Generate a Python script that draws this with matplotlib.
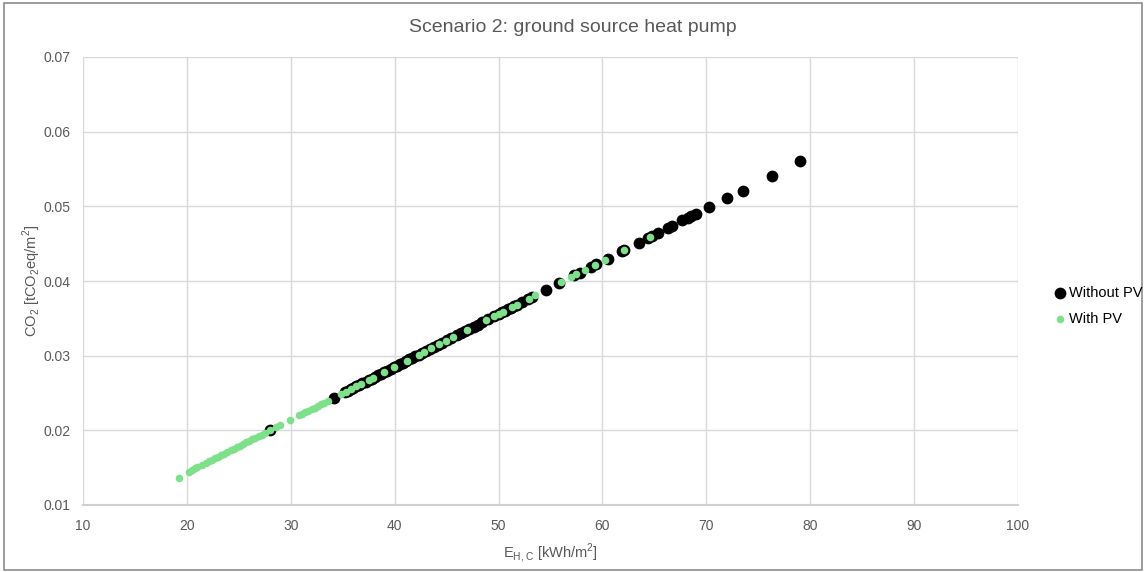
import matplotlib
matplotlib.use("Agg")
import matplotlib.pyplot as plt
from matplotlib.patches import Rectangle

plt.rcParams['font.family'] = ['Liberation Sans', 'DejaVu Sans']

title = "Scenario 2: ground source heat pump"
xlabel = r"E$_{\mathregular{H,C}}$ [kWh/m$^{\mathregular{2}}$]"
ylabel = r"CO$_{\mathregular{2}}$ [tCO$_{\mathregular{2}}$eq/m$^{\mathregular{2}}$]"
series_names = ["Without PV", "With PV"]

without_x = [28.0, 34.2, 35.2, 35.5, 35.8, 36.0, 36.3, 36.6, 36.9, 37.2, 37.5, 37.8,
             38.1, 38.4, 38.7, 39.0, 39.3, 39.6, 39.9, 40.2, 40.5, 40.8, 41.1, 41.4,
             41.7, 42.0, 42.3, 42.6, 43.0, 43.4, 43.8, 44.2, 44.6, 45.0, 45.4, 46.0,
             46.4, 46.8, 47.2, 47.6, 48.0, 48.4, 49.0, 49.6, 50.0, 50.3, 50.6, 50.9,
             51.2, 51.5, 51.8, 52.3, 52.8, 53.2, 54.6, 55.8, 57.3, 57.8, 58.9, 59.4,
             60.5, 61.9, 62.1, 63.5, 64.4, 64.8, 65.3, 66.3, 66.7, 67.7, 68.2, 68.5,
             69.0, 70.3, 72.0, 73.5, 76.3, 79.0]
without_y = [0.02000, 0.02439, 0.02510, 0.02531, 0.02553, 0.02567, 0.02588, 0.02609,
             0.02631, 0.02652, 0.02673, 0.02694, 0.02715, 0.02737, 0.02758, 0.02779,
             0.02800, 0.02822, 0.02843, 0.02864, 0.02885, 0.02907, 0.02928, 0.02949,
             0.02970, 0.02992, 0.03013, 0.03034, 0.03062, 0.03091, 0.03119, 0.03147,
             0.03176, 0.03204, 0.03232, 0.03275, 0.03303, 0.03331, 0.03360, 0.03388,
             0.03416, 0.03445, 0.03487, 0.03530, 0.03558, 0.03579, 0.03600, 0.03622,
             0.03643, 0.03664, 0.03685, 0.03721, 0.03756, 0.03785, 0.03884, 0.03969,
             0.04075, 0.04110, 0.04188, 0.04224, 0.04301, 0.04401, 0.04415, 0.04514,
             0.04578, 0.04606, 0.04641, 0.04712, 0.04740, 0.04811, 0.04847, 0.04868,
             0.04903, 0.04995, 0.05116, 0.05212, 0.05410, 0.05611]

with_x = [19.2, 20.2, 20.5, 20.8, 21.0, 21.5, 21.8, 22.1, 22.4, 22.7, 23.0, 23.3,
          23.6, 23.9, 24.2, 24.5, 24.8, 25.1, 25.4, 25.7, 26.0, 26.3, 26.6, 26.9,
          27.2, 27.5, 28.0, 28.6, 29.0, 29.9, 30.8, 31.1, 31.4, 31.7, 32.0, 32.3,
          32.6, 32.9, 33.2, 33.6, 34.8, 35.3, 35.8, 36.3, 36.8, 37.5, 37.9, 39.0,
          39.9, 41.2, 42.3, 42.8, 43.5, 44.3, 44.9, 45.6, 47.0, 48.8, 49.6, 50.0,
          50.4, 51.3, 51.8, 52.9, 53.5, 56.0, 57.0, 57.5, 58.3, 59.3, 60.2, 62.1,
          64.6]
with_y = [0.01360, 0.01448, 0.01469, 0.01491, 0.01505, 0.01540, 0.01561, 0.01583,
          0.01604, 0.01625, 0.01646, 0.01668, 0.01689, 0.01710, 0.01731, 0.01753,
          0.01774, 0.01795, 0.01816, 0.01838, 0.01859, 0.01880, 0.01901, 0.01923,
          0.01944, 0.01965, 0.02000, 0.02043, 0.02071, 0.02135, 0.02199, 0.02220,
          0.02241, 0.02262, 0.02284, 0.02305, 0.02326, 0.02347, 0.02369, 0.02397,
          0.02482, 0.02517, 0.02553, 0.02588, 0.02623, 0.02673, 0.02701, 0.02779,
          0.02843, 0.02935, 0.03013, 0.03048, 0.03098, 0.03154, 0.03197, 0.03246,
          0.03346, 0.03473, 0.03530, 0.03558, 0.03586, 0.03650, 0.03685, 0.03763,
          0.03806, 0.03983, 0.04054, 0.04089, 0.04146, 0.04216, 0.04280, 0.04415,
          0.04592]

xticks = [10, 20, 30, 40, 50, 60, 70, 80, 90, 100]
yticks = [0.01, 0.02, 0.03, 0.04, 0.05, 0.06, 0.07]

fig = plt.figure(figsize=(11.46, 5.72), dpi=100)
ax = fig.add_axes([83/1146, 1-505/572, (1018-83)/1146, (505-57)/572])

txt = '#595959'
grid = '#d9d9d9'

ax.scatter(without_x, without_y, s=72, color='black', linewidths=0, label=series_names[0], zorder=3)
ax.scatter(with_x, with_y, s=30, color='#7ee08a', linewidths=0, label=series_names[1], zorder=4)

ax.set_xlim(10, 100)
ax.set_ylim(0.01, 0.07)
ax.set_xticks(xticks)
ax.set_yticks(yticks)
ax.set_xticklabels([str(v) for v in xticks])
ax.set_yticklabels([f"{v:.2f}" for v in yticks])
ax.grid(True, color=grid, linewidth=1)
ax.set_axisbelow(True)
for s in ['top', 'right', 'left']:
    ax.spines[s].set_visible(False)
ax.spines['bottom'].set_color('#d0d0d0')
ax.spines['bottom'].set_linewidth(1.5)
ax.tick_params(axis='both', length=0, labelsize=10, colors=txt)
ax.tick_params(axis='x', pad=10)
ax.tick_params(axis='y', pad=9)

ax.set_xlabel(xlabel, fontsize=10.5, color=txt, labelpad=6)
ax.set_ylabel(ylabel, fontsize=10.5, color=txt)
ax.yaxis.set_label_coords(-0.043, 0.5)
fig.text(0.5, 1-27/572, title, ha='center', va='center', fontsize=14, color=txt)

leg = fig.legend(loc='center left', bbox_to_anchor=(1040/1146, 1-306/572), frameon=False,
                 fontsize=10.5, handletextpad=0.1, labelspacing=0.8, markerscale=1.0,
                 handlelength=1.0)

fig.patches.append(Rectangle((4/1146, 2/572), 1138/1146, 567/572, transform=fig.transFigure,
                             fill=False, edgecolor='#8c8c8c', linewidth=1.2))

fig.savefig("out.png", dpi=100)
